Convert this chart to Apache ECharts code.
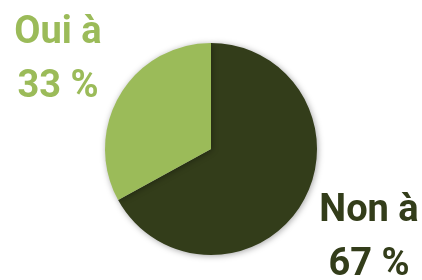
<!DOCTYPE html>
<html>
<head>
<meta charset="utf-8">
<script src="https://cdn.jsdelivr.net/npm/echarts@6/dist/echarts.min.js"></script>
<style>
html,body{margin:0;padding:0;background:#fff;}
#c{width:422px;height:280px;}
</style>
</head>
<body>
<div id="c"></div>
<script>
const categories = ['Non', 'Oui'];
const values = [67, 33];
const colors = ['#333d1a', '#9bbb59'];

const chart = echarts.init(document.getElementById('c'), null, {renderer: 'canvas'});
const labelPos = [[369, 238], [58, 60]];
chart.setOption({
  animation: false,
  series: [{
    type: 'pie',
    center: [211, 149],
    radius: [0, 106],
    startAngle: 90,
    clockwise: true,
    itemStyle: {
      shadowBlur: 6,
      shadowColor: 'rgba(0,0,0,0.35)',
      shadowOffsetX: 1,
      shadowOffsetY: 1
    },
    label: {
      show: true,
      position: 'outside',
      overflow: 'none',
      formatter: p => p.name + ' à\n' + p.value + ' %',
      fontFamily: 'Roboto',
      fontWeight: 'bold',
      fontSize: 38,
      lineHeight: 54,
      align: 'center'
    },
    labelLine: {show: false},
    labelLayout: function (params) {
      const pt = labelPos[params.dataIndex];
      return {x: pt[0], y: pt[1], align: 'center', verticalAlign: 'middle'};
    },
    data: categories.map((c, i) => ({
      name: c,
      value: values[i],
      itemStyle: {color: colors[i]},
      label: {color: colors[i]}
    }))
  }]
});
</script>
</body>
</html>
